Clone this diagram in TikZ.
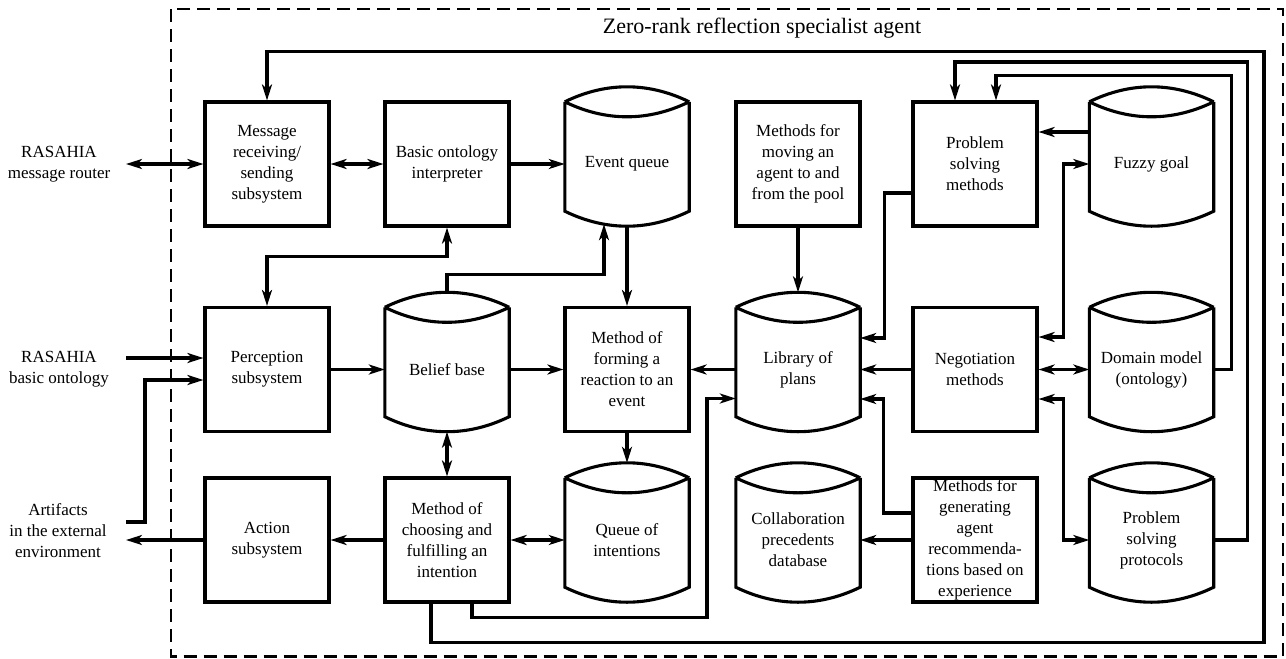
\documentclass[tikz,border=0pt]{standalone}
\usepackage{fontspec}
\setmainfont{Liberation Serif}
\usetikzlibrary{arrows.meta}
\newcommand\dbdraw[1]{%
  \draw[ln] (#1.north west) .. controls +(41,-20) and +(-41,-20) .. (#1.north east)
    (#1.north west) .. controls +(41,20) and +(-41,20) .. (#1.north east)
    (#1.north west) -- ([yshift=15pt]#1.south west)
      .. controls +(41,20) and +(-41,20) .. ([yshift=15pt]#1.south east) -- (#1.north east);
}
\begin{document}
\begin{tikzpicture}[x=1pt,y=-1pt,
  >={Stealth[length=16pt,width=10pt,inset=4.5pt]},
  ln/.style={line width=3.1pt},
  blk/.style={draw, line width=3.1pt, minimum width=124pt, minimum height=124pt, inner sep=0pt, align=center, font=\fontsize{17}{21}\selectfont},
  cyl/.style={minimum width=124pt, minimum height=124pt, inner sep=0pt, align=center, font=\fontsize{17}{21}\selectfont},
  lbl/.style={align=center, inner sep=0pt, font=\fontsize{17}{21}\selectfont},
  frame/.style={draw, line width=2.4pt, dash pattern=on 13pt off 7pt},
]
\useasboundingbox (0,0) rectangle (1286,659);
\draw[frame] (171,9) rectangle (1283,656.5);
\node[font=\fontsize{22}{26}\selectfont] (title) at (762,28) {Zero-rank reflection specialist agent};

% left labels
\node[lbl] (mr) at (59,164) {RASAHIA\\message router};
\node[lbl] (bo) at (59,369.5) {RASAHIA\\basic ontology};
\node[lbl] (art) at (58,531) {Artifacts\\in the external\\environment};
\coordinate (mrE) at (126,164);
\coordinate (boE) at (126,358);
\coordinate (artE) at (126,522);
\coordinate (actE) at (126,540);

% row 1
\node[blk] (msg) at (267,164) {Message\\receiving/\\sending\\subsystem};
\node[blk] (onto) at (447,164) {Basic ontology\\interpreter};
\node[cyl] (evq) at (627,164) {Event queue};
\node[blk] (move) at (798,164) {Methods for\\moving an\\agent to and\\from the pool};
\node[blk] (psm) at (975,164) {Problem\\solving\\methods};
\node[cyl] (fuzzy) at (1151.5,164) {Fuzzy goal};
% row 2
\node[blk] (perc) at (267,369.5) {Perception\\subsystem};
\node[cyl] (belief) at (447,369.5) {Belief base};
\node[blk] (form) at (627,369.5) {Method of\\forming a\\reaction to an\\event};
\node[cyl] (lib) at (798,369.5) {Library of\\plans};
\node[blk] (nego) at (975,369.5) {Negotiation\\methods};
\node[cyl] (domain) at (1151.5,369.5) {Domain model\\(ontology)};
% row 3
\node[blk] (act) at (267,540) {Action\\subsystem};
\node[blk] (choose) at (447,540) {Method of\\choosing and\\fulfilling an\\intention};
\node[cyl] (intq) at (627,540) {Queue of\\intentions};
\node[cyl] (collab) at (798,540) {Collaboration\\precedents\\database};
\node[blk] (gen) at (975,540) {Methods for\\generating\\agent\\recommenda-\\tions based on\\experience};
\node[cyl] (proto) at (1151.5,540) {Problem\\solving\\protocols};

\dbdraw{evq}
\dbdraw{fuzzy}
\dbdraw{belief}
\dbdraw{lib}
\dbdraw{domain}
\dbdraw{intq}
\dbdraw{collab}
\dbdraw{proto}

% external connections
\draw[ln,<->] (mrE) -- (msg.west);
\draw[ln,->] (boE) -- ([yshift=11.5pt]perc.west);
\draw[ln,->] (artE) -- ++(19,0) |- ([yshift=-10.5pt]perc.west);
\draw[ln,->] (act.west) -- (actE);

% row 1
\draw[ln,<->] (msg.east) -- (onto.west);
\draw[ln,->] (onto.east) -- (evq.west);
\draw[ln,->] ([yshift=32pt]fuzzy.west) -- ([yshift=32pt]psm.east);

% vertical / inter-row
\draw[ln,<->] (onto.south) -- ++(0,29) -| (perc.north);
\draw[ln,->] ([yshift=15pt]belief.north) -- ++(0,-18) -| ([xshift=-23pt,yshift=2pt]evq.south);
\draw[ln,->] (evq.south) -- (form.north);
\draw[ln,->] (move.south) -- ([yshift=15pt]lib.north);

% row 2
\draw[ln,->] (perc.east) -- (belief.west);
\draw[ln,->] (belief.east) -- (form.west);
\draw[ln,->] (lib.west) -- (form.east);
\draw[ln,->] (nego.west) -- (lib.east);
\draw[ln,<->] (nego.east) -- (domain.west);
\draw[ln,->] ([yshift=-29pt]psm.west) -- ++(-27,0) |- ([yshift=31.5pt]lib.east);
\draw[ln,<->] ([yshift=32.5pt]nego.east) -- ++(25,0) |- (fuzzy.west);
\draw[ln,<->] ([yshift=-29.5pt]nego.east) -- ++(25,0) |- (proto.west);

% row 2-3
\draw[ln,->] (form.south) -- ([yshift=15pt]intq.north);
\draw[ln,<->] (belief.south) -- (choose.north);

% row 3
\draw[ln,<->] (choose.east) -- (intq.west);
\draw[ln,->] (choose.west) -- (act.east);
\draw[ln,->] (gen.west) -- (collab.east);
\draw[ln,->] ([yshift=27pt]gen.west) -- ++(-28,0) |- ([yshift=-29.5pt]lib.east);

% long feedback loops
\draw[ln,->] (domain.east) -- ++(18,0) -- ++(0,-294) -| ([xshift=21pt]psm.north);
\draw[ln,->] (proto.east) -- ++(34,0) -- ++(0,-478) -| ([xshift=-20pt]psm.north);
\draw[ln,->] ([xshift=-16pt]choose.south) -- ++(0,39) -- ++(833,0) -- ++(0,-591) -| (msg.north);
\draw[ln,->] ([xshift=25pt]choose.south) -- ++(0,14) -- ++(235,0) |- ([yshift=-29pt]lib.west);
\end{tikzpicture}
\end{document}
